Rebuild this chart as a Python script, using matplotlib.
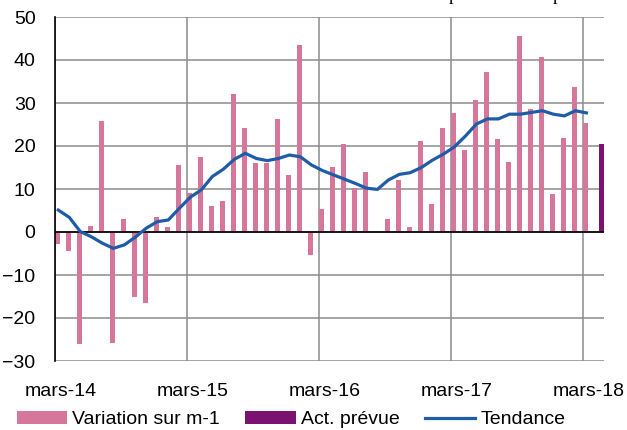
import numpy as np
import matplotlib.pyplot as plt

plt.rcParams['font.family'] = ['Liberation Sans', 'DejaVu Sans']

# variation mensuelle, de mars-14 a mars-18
variation = [-2.8, -4.4, -26, 1.5, 25.8, -25.7, 3, -15, -16.6, 3.4, 1.1, 15.6,
             9.1, 17.5, 6, 7.2, 32.2, 24.3, 16, 16, 26.3, 13.3, 43.6, -5.3,
             5.3, 15.2, 20.5, 10.3, 14, 0, 3, 12.1, 1.1, 21.2, 6.5, 24.3,
             27.7, 19, 30.8, 37.3, 21.6, 16.3, 45.5, 28.5, 40.6, 8.8, 21.8, 33.8,
             25.4]
tendance = [5.1, 3.4, 0.1, -1.1, -2.6, -3.8, -3.0, -1.2, 0.9, 2.4, 2.8, 5.5,
            8.1, 9.8, 12.9, 14.6, 16.9, 18.3, 17.1, 16.6, 17.1, 17.9, 17.5, 15.6,
            14.3, 13.3, 12.3, 11.3, 10.2, 9.9, 12.1, 13.4, 13.8, 15.0, 16.7, 18.1,
            19.8, 22.3, 25.1, 26.3, 26.3, 27.4, 27.4, 27.8, 28.2, 27.4, 27.0, 28.2,
            27.7]
act_prevue = [20.5]  # avril-18
year_labels = ['mars-14', 'mars-15', 'mars-16', 'mars-17', 'mars-18']

pink = '#D5769A'
purple = '#7C1270'
blue = '#1F5CA8'
grid_col = '#8C8C8C'

W, H = 627, 430
fig = plt.figure(figsize=(W / 100, H / 100), dpi=100)
ax = fig.add_axes([55 / W, (H - 361) / H, (604 - 55) / W, (361 - 17) / H])

x = np.arange(len(variation))
b1 = ax.bar(x + 0.25, variation, width=0.45, color=pink, zorder=2, label='Variation sur m-1')
b2 = ax.bar(len(variation) + 0.68, act_prevue, width=0.45, color=purple, zorder=2,
            label='Act. prévue')
l1, = ax.plot(x + 0.3, tendance, color=blue, lw=2.3, zorder=3, label='Tendance')
ax.axhline(0, color='black', lw=1.2, zorder=2.5)

ax.set_xlim(0, 49.9)
ax.set_ylim(-30, 50)
ax.set_yticks(range(-30, 51, 10))
ax.set_xticks(np.arange(len(year_labels)) * 12 + 0.5)
ax.set_xticklabels(year_labels)
ax.set_xticks(np.arange(len(year_labels)) * 12, minor=True)
ax.tick_params(axis='both', which='both', length=0, labelsize=14)
ax.tick_params(axis='y', pad=14)
ax.tick_params(axis='x', pad=16)
ax.grid(axis='y', color=grid_col, lw=1.1, zorder=0)
ax.grid(axis='x', which='minor', color=grid_col, lw=1.1, zorder=0)
for s in ['top', 'right', 'bottom']:
    ax.spines[s].set_visible(False)
ax.spines['left'].set_color('black')
ax.spines['left'].set_linewidth(1.2)
ax.spines['left'].set_zorder(4)

fig.legend([b1, b2, l1], ['Variation sur m-1', 'Act. prévue', 'Tendance'],
           loc='lower left', bbox_to_anchor=(0.027, 0.004), ncol=3, frameon=False,
           fontsize=14, handlelength=2.6, handleheight=0.65, handletextpad=0.25,
           columnspacing=1.3, borderaxespad=0, borderpad=0)

# titre coupe en haut de l'image
fig.text(453 / W, 1.0, 'p', family='Liberation Serif', fontsize=13, va='baseline', ha='center')
fig.text(557 / W, 1.0, 'p', family='Liberation Serif', fontsize=13, va='baseline', ha='center')

fig.savefig('out.png', dpi=100)
